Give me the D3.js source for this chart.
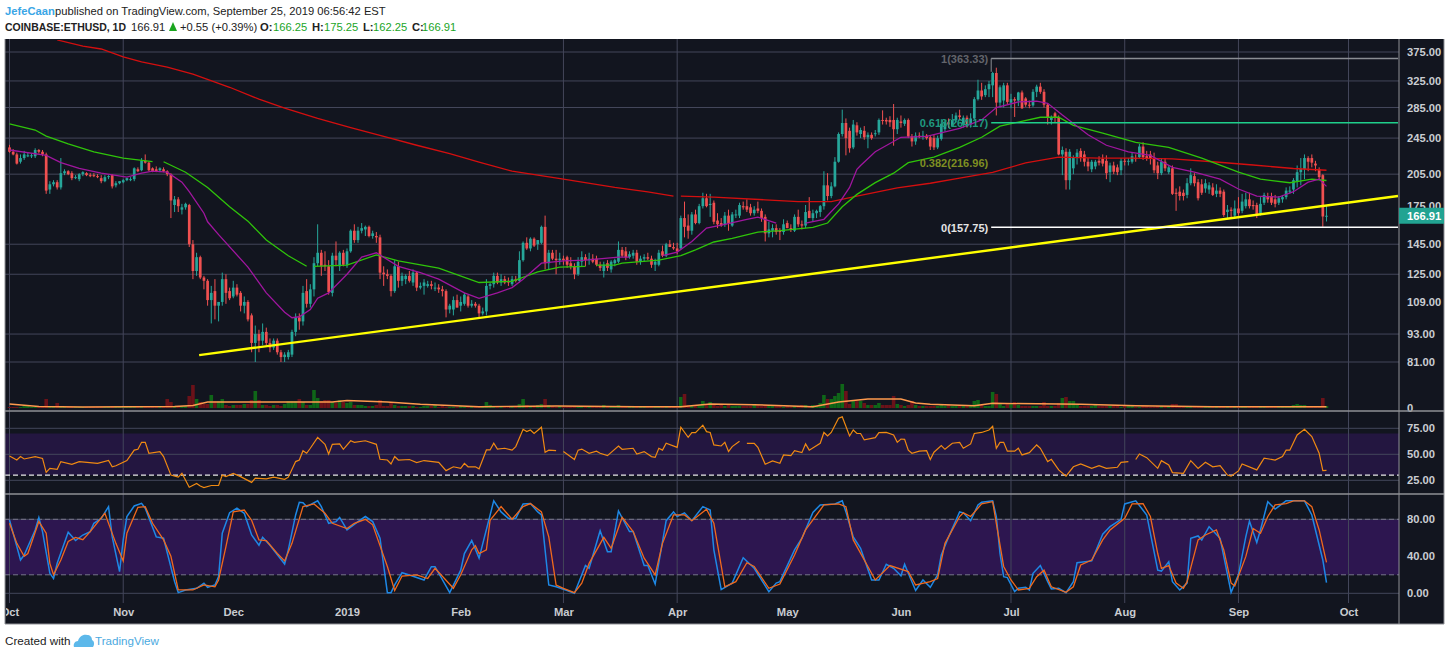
<!DOCTYPE html>
<html>
<head>
<meta charset="utf-8">
<script src="https://cdn.jsdelivr.net/npm/d3@7"></script>
<style>
  body { margin: 0; background: #fff; }
  svg { display: block; font-family: "Liberation Sans", Arial, sans-serif; }
  .axis text { fill: #c9ccd1; font-size: 11.2px; font-weight: bold; }
  .axis path, .axis line { display: none; }
</style>
</head>
<body>
<div id="chart"></div>
<script>
// Daily candles, day 0 = 1 Oct 2018, last = 25 Sep 2019
var opens = [
  234,229,226,218,222,225,224,224,231,229, 226,190,195,197,192,206,208,206,201,200,
  205,206,204,204,203,201,198,202,204,194, 196,197,199,200,200,210,209,219,217,211,
  210,209,210,208,205,176,181,172,174,176, 145,127,136,123,121,110,115,107,109,122,
  115,112,117,114,107,109,102,89,93,90, 94,89,87,90,85,83,83,84,94,101,
  99,115,108,116,132,139,131,130,114,137, 130,139,131,140,155,148,155,156,158,151,
  151,150,126,125,124,115,130,121,122,124, 120,126,117,118,118,119,117,117,116,115,
  105,105,110,107,108,112,107,108,107,103, 104,118,119,124,120,122,121,119,122,121,
  134,146,142,149,145,146,158,132,139,135, 134,135,136,132,130,125,133,136,134,135,
  135,131,127,132,128,132,133,141,140,136, 137,139,133,135,136,135,131,131,140,137,
  145,143,142,142,165,159,155,168,161,175, 182,176,178,163,161,160,167,159,168,167,
  175,175,174,169,173,171,166,153,155,157, 155,154,161,157,155,166,160,159,171,165,
  169,170,175,194,184,193,218,250,264,254, 234,261,250,254,246,249,250,252,268,268,
  268,268,256,266,263,268,247,241,248,247, 248,246,245,234,244,256,265,260,268,274,
  262,271,262,270,297,310,303,312,318,338, 292,295,318,292,297,295,307,298,289,288,
  308,316,308,289,268,277,272,226,229,199, 211,222,230,226,218,210,213,219,221,219,
  207,214,212,209,219,218,218,222,223,235, 224,226,222,214,206,218,207,211,187,188,
  187,185,196,203,197,195,191,190,192,186, 189,188,170,172,167,173,171,175,181,176,
  176,169,178,184,184,181,178,181,183,188, 190,198,207,210,222,222,216,210,204,166.25
];
var highs = [
  237,232,228,226,230,228,227,233,232,231, 228,198,199,199,222,210,209,208,204,206,
  208,207,206,206,205,204,204,204,205,198, 198,200,201,202,212,212,222,226,218,212,
  213,212,212,209,206,184,183,177,178,177, 148,139,137,124,122,118,122,109,126,125,
  117,121,119,115,112,110,103,97,95,98, 96,91,91,91,86,85,86,95,103,103,
  118,122,119,136,160,141,140,134,139,147, 140,141,142,156,160,158,161,159,159,155,
  154,152,130,128,125,134,133,126,125,127, 128,127,120,122,121,121,120,119,118,116,
  108,112,113,112,114,113,110,109,108,106, 122,120,126,126,125,124,123,124,124,140,
  147,150,150,150,148,159,167,141,141,141, 139,137,137,136,132,136,140,138,139,138,
  137,133,133,134,134,135,147,143,143,140, 141,141,137,138,139,137,135,141,144,146,
  148,146,146,167,179,168,170,172,177,187, 186,186,180,169,165,170,172,170,172,178,
  179,181,177,175,179,173,168,162,160,160, 157,164,163,160,168,172,163,176,183,172,
  172,176,208,206,197,223,252,282,270,258, 268,265,258,260,252,252,255,270,281,271,
  273,290,271,274,270,270,250,252,252,254, 250,248,249,248,269,268,270,276,278,282,
  274,274,277,300,327,322,318,325,340,347, 318,322,322,305,300,308,310,300,295,312,
  319,322,312,291,274,279,274,235,233,232, 225,232,233,230,222,220,220,224,226,225,
  217,218,215,222,222,222,228,226,238,240, 230,230,228,218,222,222,214,214,191,193,
  190,201,211,206,200,200,200,197,196,195, 192,190,176,174,180,183,186,187,187,180,
  178,183,187,187,187,185,184,185,192,193, 201,214,222,226,224,226,219,212,205,175.25
];
var lows = [
  228,225,215,216,220,223,222,222,227,224, 186,186,193,190,190,204,204,199,200,198,
  203,203,202,202,201,196,197,200,191,192, 195,196,198,198,198,207,208,216,208,207,
  207,207,207,203,165,170,170,168,172,143, 122,124,122,116,107,98,100,99,107,108,
  110,111,112,104,103,99,85,81,85,88, 88,85,86,84,81,81,82,83,92,95,
  97,106,106,112,130,124,127,113,112,130, 127,130,129,139,146,146,153,151,150,149,
  146,122,118,122,112,114,117,118,119,120, 118,115,116,113,117,116,115,114,112,101,
  103,102,106,104,107,106,106,106,101,102, 102,116,117,119,118,119,118,118,120,120,
  133,141,140,143,141,145,128,128,134,125, 131,131,129,128,122,124,130,130,131,132,
  130,127,123,127,126,130,132,136,134,135, 135,131,131,133,134,129,127,130,136,136,
  143,141,138,141,150,149,152,160,160,173, 174,166,160,157,158,158,155,158,165,165,
  172,170,167,167,169,162,147,150,150,152, 148,152,157,154,154,158,156,157,165,162,
  165,166,172,180,182,192,217,247,225,228, 232,248,245,243,233,243,247,249,262,262,
  259,236,250,258,260,245,235,237,245,243, 243,231,231,232,242,253,258,259,265,268,
  258,258,258,268,295,296,300,300,300,274, 285,285,290,284,272,287,283,286,284,286,
  300,305,285,262,262,264,225,204,190,190, 205,215,218,213,208,207,210,214,213,200,
  197,205,204,204,214,214,216,218,222,220, 219,215,206,200,204,208,205,185,171,180,
  180,182,194,193,180,185,187,186,184,183, 183,166,165,165,165,167,169,173,173,172,
  165,167,176,178,176,174,176,178,181,186, 186,192,194,200,208,212,208,200,158,162.25
];
var closes = [
  229,226,216,222,226,225,225,231,229,226, 189,195,197,192,206,208,205,201,202,205,
  207,204,203,203,202,198,202,203,193,196, 198,199,201,200,211,208,219,217,209,208,
  208,211,208,205,180,181,175,174,177,145, 127,136,123,121,110,114,107,109,122,114,
  111,117,113,107,109,100,89,93,90,94, 89,87,90,85,83,84,85,94,101,99,
  114,108,116,132,139,130,130,114.5,137,134, 139,131,140,155,148,155,157,158,151,153,
  150,126,125,124,115,130,121,124,124,121, 126,117,118,120,119,118,117,116,115,105,
  107,110,106,109,113,107,108,107,103,104, 118,119,124,120,122,120,120,122,121,134,
  146,142,149,144,148,158,132,139,135,134, 135,134,131,130,125,133,136,134,135,133,
  131,129,131,129,133,134,141,137,136,138, 139,133,135,136,135,131,133,139,137,145,
  143,142,140,165,158,155,168,161,175,182, 175,177,162,160,159,167,161,168,168,176,
  174,172,169,172,171,165,153,156,157,154, 154,160,157,156,166,160,159,170,165,169,
  171,175,194,184,193,218,250,264,245,233, 262,252,255,246,249,245,251,268,267,266,
  265,256,268,264,268,247,241,248,247,248, 245,235,234,245,263,265,262,268,274,272,
  271,262,270,297,310,301,312,320,338,292, 315,318,293,297,295,307,284,289,288,308,
  316,308,289,271,272,272,226,231,199,229, 222,228,222,218,213,218,218,217,216,206,
  214,207.5,207,219,218,219,224,221,235,223, 222,222,209,206,218,211,212,186,186,184,
  184,196,204,196,182,187,196,194,185,189, 186,167.5,172,171,173,169,179,181,175,175,
  167.5,177,185,181,178,177,182,183,189,189, 199,207,211,222,218,217,214,202,166.3,166.91
];

// Volume, same days (arbitrary units)
var volumes = [
  1,1,1,1,2,2,1,1,1,2, 9,2,1,5,2,1,1,1,1,1, 1,1,1,1,1,1,1,1,2,2, 1,1,1,1,2,2,1,1,1,1,
  1,1,2,9,6,2,2,2,2,12, 23,9,6,4,4,13,7,7,9,3, 2,3,3,3,4,4,8,17,8,3, 3,2,3,3,2,4,7,7,7,9,
  6,3,3,18,10,7,8,8,6,5, 8,6,5,6,3,3,3,2,2,2, 3,8,2,2,6,3,2,2,2,2, 2,1,1,2,2,2,3,1,2,1,
  1,1,1,2,1,1,1,1,1,2, 6,3,2,1,1,2,2,2,1,4, 9,3,2,1,3,4,9,3,2,1, 2,1,1,1,2,1,1,2,2,1,
  1,2,3,2,1,2,3,2,2,1, 1,2,2,1,1,1,1,1,1,1, 1,1,2,11,14,3,2,2,3,7, 3,6,3,2,3,2,3,2,2,2,
  2,2,2,3,3,2,3,3,3,2, 2,1,2,1,2,2,3,3,2,3, 2,5,13,9,9,12,15,24,17,4, 7,7,7,5,3,3,3,5,3,3,
  3,12,4,3,2,3,7,3,2,2, 2,2,2,2,3,2,3,2,2,2, 2,2,3,7,8,3,2,2,16,14, 4,2,4,4,6,3,2,2,2,2,
  2,2,6,2,2,2,5,10,11,7, 7,3,2,2,2,2,3,2,2,2, 2,3,2,1,2,2,2,1,1,2, 2,1,1,2,2,2,2,4,4,2,
  2,1,2,1,1,2,2,1,1,2, 2,2,1,2,1,1,2,2,2,1, 1,1,1,1,1,1,1,2,2,2, 3,4,3,3,1,1,2,2,10,2
];
var volMaDays = [0,8,20,45,50,54,88,92,103,112,128,149,171,183,191,203,219,226,234,243,247,251,263,268,292,307,328,359];
var volMaValues = [4,1.5,1,1.5,2.5,6,6,7.5,6,3.7,1.3,2,1.3,1.3,4,3.3,1.3,6,9,9,5,3.7,2.3,4.7,3.7,2.3,1.3,1.3];

// Moving averages
var ma20Days = [0,10,14,19,25,32,36,39,43,47,49,53,54,57,65,70,75,77,79,82,84,87,92,96,100,106,112,117,124,128,133,137,140,145,151,157,166,169,178,182,186,190,195,201,204,209,217,222,226,229,231,232,236,243,250,259,265,269,275,280,283,287,294,299,305,311,317,323,330,335,340,346,350,354,357,359];
var ma20Values = [231,225,217,211,206,202,206,208,207,197,188,169,162,152,129.5,114,103.6,100.8,101.3,105,111,114,125,136,139,130,126,122,114,111,114,117,122,132,133.5,134,136,136,137,139.5,147,157,160,164,165.7,161,161,164,177,192,210,214,229,246,247,257,268,285,293,294,291,274.5,249,236.5,229,225,212,207,200,190.5,184,183,188,197,200,193];
var ma50Days = [0,7,10,16,23,31,39,42,48,54,60,65,70,76,81,83,92,100,106,117,128,137,144,150,157,160,165,167,177,183,187,192,197,204,210,219,223,227,231,236,241,245,252,259,265,270,281,286,290,298,307,316,325,335,341,349,355,359];
var ma50Values = [263,255,247.5,238,229,222,218,218,207,192,174.5,162.5,148,137,130,130,130.7,137.6,133.5,128.8,120,120.7,126.4,129.5,130,130.7,130.7,132,134,137,141,146.6,149.3,154,155,157.5,161,174.5,185.5,196.6,206,217,223,234,246,260,271.6,271.6,261,251,240,234,222,207,200,196.5,200,198.7];
var ma200Days = [13,20,25,31,36,43,50,60,68,75,84,93,102,111,120,128,137,151,165,174,181,183,192,206,215,224,231,242,251,259,268,277,286,297,306,317,328,339,350,359];
var ma200Values = [398,386,380.6,366,357,348,336,315,297,284,270,258,247,236.5,227,217.5,208,200,192,187.8,184,184,183,180.6,179,179,184,191.5,196,201,206.9,216.7,223,222,222,221,218,214.5,210.8,209];
// days after which the drawn line breaks off until the next reading
var ma20Breaks = [169,209];
var ma50Breaks = [39,81,157];
var ma200Breaks = [181];

// Trend line and fib levels
var trendDays = [51.7,378.5];
var trendValues = [83.8,184];
var fibStartDay = 267.6;
var fibEndDay = 378.5;
var fibLevels = [1,0.618,0.382,0];
var fibValues = [363.33,264.17,216.96,157.75];

// RSI
var rsiDays = [0,2,3,4,7,9,10,11,13,14,17,19,24,27,28,29,32,34,35,36,37,38,41,42,44,46,47,49,51,52,53,55,57,58,59,61,63,66,67,70,72,75,76,78,79,80,81,82,84,86,87,88,90,91,93,94,97,100,101,103,104,105,106,109,111,113,117,119,121,123,124,125,127,128,
  130,131,132,133,135,137,138,140,141,142,143,145,146,147,149,151,154,155,156,158,160,161,163,166,167,170,171,173,175,176,177,178,179,182,183,185,186,187,189,190,191,192,194,195,196,197,199,201,203,204,206,208,210,211,213,214,216,217,218,221,222,223,224,226,227,229,230,231,232,233,236,237,239,241,242,243,244,245,246,248,250,251,252,254,255,257,259,
  260,262,263,265,267,268,269,270,271,272,274,275,276,278,280,281,283,284,286,288,290,292,295,297,299,302,303,305,307,308,310,313,314,316,317,320,322,324,326,328,330,332,333,335,336,340,342,345,347,348,349,351,353,355,357,358,359];
var rsiValues = [48.4,44.5,47.8,45.5,47.8,46,32.7,36.5,35.6,43,40.4,43,41.3,44.2,38,39,44,54,54.8,61.5,61.5,51,52.6,47.8,30,28,31.7,18.3,22,19.5,18,20,20,30,28.5,31.7,28.5,23,27,26.3,28,26,28,43,44.5,53.5,51,55.8,66.3,59.6,50.3,59.6,60,54.8,63,61.5,63,59.6,45.2,44.5,40.7,47.8,44.5,45,42,44,42.3,34.3,38,36.5,41.3,38,38,36,
  54.2,54.2,60.6,55,55.8,54,57.4,74,71.8,73.4,70,76,52,54,53.5,52.6,45,54,55,51,53,51,48.7,58,54.8,55.8,50.3,52.6,47.8,47,55.8,54,60.6,56.7,76,66.3,70.8,70.8,78,71.8,71,59,58,61.5,52.6,57.4,62.6,60.6,60.6,56.7,40.4,43.6,41.3,49.4,48.7,53.5,51.6,60,54,60.6,71,67.6,71,84.6,86,67.6,73.4,70,70,63.8,66,70.8,71,68.6,61.5,64.7,64.4,54,51,53,53.5,45,52,58.3,54.8,60.6,61.5,
  55.8,60,70,71,73.4,77,55.8,61.5,61.5,53,53,55.8,49.4,51.6,59,55.8,43,45.2,35,29,38,40.7,36.5,39,36.5,37.5,42.3,43,45,50.3,46.8,36.5,43.9,39.7,32.4,31.7,43.9,36.5,42.3,38,39,30,29,34,40.7,35,46.2,44.5,47.8,54,54,68.6,74,67,51,34.3,34.6];
var rsiBreaks = [149,199,305];

// Stochastic RSI
var stochKDays = [0,2,3,4,7,8,9,11,12,13,16,18,20,22,23,25,27,28,30,31,32,34,36,37,40,42,45,46,48,51,53,54,56,57,58,60,62,64,66,68,69,71,75,76,78,79,80,81,84,85,87,89,90,92,95,97,99,101,103,104,105,107,109,113,115,116,120,123,124,126,128,
  132,134,136,138,140,142,144,145,147,149,152,154,156,157,158,161,163,164,166,169,170,173,174,176,179,181,182,184,186,189,191,192,194,197,200,203,207,209,210,214,216,219,221,225,227,228,230,232,235,237,239,241,243,244,245,247,249,251,253,254,256,258,259,
  260,262,264,265,268,269,270,271,272,274,275,277,278,279,281,283,284,286,288,290,291,295,298,300,303,304,307,310,313,314,316,317,319,321,322,324,325,327,330,333,335,337,338,340,341,343,345,348,353,355,358,359];
var stochKValues = [79.3,50.5,36,41.4,68.5,82,66.7,21.6,16,32.4,66,57,63,66.7,75.7,81,93.7,61,23.4,57.7,83,94.4,97.3,92,61,59.5,12.6,0.7,3.6,5.4,10.8,6.5,9,18,65,87.2,92,86.5,63,52,60.5,52,31.7,47,84.7,98.4,98,93.7,100,93.7,75.7,77.5,82,68.5,77.5,83,77.5,59.5,0.7,0.7,9,22.3,19.8,14.4,28.8,28.8,0.7,25,43,57,38,
  100,88,81,81,96.6,97,88,84.7,9,7,3,0,20,30,27,67.7,45,45,89,66.7,66.7,30,30,10,78.5,88,83,87,78.5,93.7,90,47,4,11,38.5,27,1.8,11,12.6,47,59.5,87.5,95.5,96.6,100,88,61,48.6,14.4,14.4,31.4,27,19,31.4,21.6,3,14.4,6.5,20,41.4,61,79,88,
  87,78.5,95.5,98.4,100,83,43,18,17,1.8,5.4,6.5,3.6,21.6,30,12.6,4.7,5.4,0.7,12.6,33,35,64,72,80,96.6,100,84.7,25,24,34,12.6,3.6,11,59.5,62,57.7,72,59.5,1,20,61,78,55,68.5,99,91,100,100,84.7,36,11.5];
var stochDDays = [0,2,4,5,8,10,11,12,14,16,18,20,22,26,29,31,32,35,37,39,42,44,46,50,53,56,57,59,61,64,66,68,70,73,75,77,80,83,86,88,92,94,97,99,103,105,107,111,114,116,121,123,126,127,128,
  130,131,134,136,137,140,142,145,147,149,151,154,156,158,162,164,167,170,173,176,178,181,184,186,190,192,195,198,201,203,207,210,214,217,222,226,228,230,236,240,245,247,251,253,255,259,
  260,262,265,268,269,271,273,275,278,280,282,284,288,290,292,295,298,300,304,306,309,311,313,314,316,318,320,321,324,326,329,331,333,334,337,339,341,343,345,348,350,353,355,357,359];
var stochDValues = [75.7,54,40,43,77.5,65,32.4,20,36,56,60.5,58,66.7,86.5,54,35,65,93,93.7,75.7,57.7,40,3.6,3.6,9,7,14.4,50.5,88,90,79,57.7,57,43,35,54,93.7,96.6,86.5,75.7,70,75.7,80,74,29,3,18.7,20,16,27,5.4,20,47,51.5,43,
  47,79,93.7,84.7,80,93.7,97,88,61,9,5.4,0.7,11,32.4,60.5,48.6,82,66.7,38,20,54,84.7,84.7,78.5,91,75.7,7,12.6,33,29,5.4,10,41.4,68.5,95.5,96.6,93.7,57.7,14.4,30,23.4,9,12.6,16,54,83,
  87,83,96.6,99,75.7,29,14.4,3.6,5.4,18,25,7,1,7,30.6,36,57.7,68.5,81,96.6,97,83,43,27,30,11,5.4,12.6,57.7,63,68.5,47,11,8,39.6,70,65,83,95.5,97,100,100,93.7,68.5,33.5];

// Axes
var monthDays = [0,31,61,92,123,151,182,212,243,273,304,335,365];
var monthLabels = ["Oct","Nov","Dec","2019","Feb","Mar","Apr","May","Jun","Jul","Aug","Sep","Oct"];
var gridMonths = [0,31,151,182,273,304,335,365];
var priceTicks = [375,325,285,245,205,175,145,125,109,93,81];
var priceGrid = [375,325,285,245,205,145,125,93,81];
var rsiTicks = [75,50,25];
var stochTicks = [80,40,0];

var svgWidth = 1450;
var svgHeight = 657;
var plotLeft = 5, plotRight = 1444, axisX = 1399;
var plotTop = 39, mainBottom = 411, rsiBottom = 494, stochBottom = 603, plotBottom = 624;

var bg = "#12151f", grid = "#43465a", sep = "#8f9196";
var upColor = "#26a69a", downColor = "#f05050";

var x = d3.scaleLinear().domain([0, 365]).range([9.5, 1348.5]);
var y = d3.scaleLog().domain([81, 375]).range([362, 52]);
var volY = d3.scaleLinear().domain([0, 100]).range([408, 308]);
var rsiY = d3.scaleLinear().domain([25, 75]).range([480.3, 428.3]);
var stochY = d3.scaleLinear().domain([0, 80]).range([593.3, 519.3]);

// Pair up days and values, with an empty point after each break day
function withBreaks(days, values, breaks) {
  var pts = [];
  days.forEach(function(d, i) {
    pts.push([d, values[i]]);
    if (breaks.indexOf(d) >= 0) pts.push([d, null]);
  });
  return pts;
}

var svg = d3.select("#chart").append("svg")
  .attr("width", svgWidth)
  .attr("height", svgHeight);

var defs = svg.append("defs");
defs.append("clipPath").attr("id", "clip-main").append("rect")
  .attr("x", plotLeft).attr("y", plotTop + 1).attr("width", axisX - plotLeft).attr("height", mainBottom - plotTop - 1);
defs.append("clipPath").attr("id", "clip-all").append("rect")
  .attr("x", plotLeft + 1).attr("y", plotTop).attr("width", plotRight - plotLeft).attr("height", plotBottom - plotTop);

// Background
svg.append("rect")
  .attr("x", plotLeft).attr("y", plotTop)
  .attr("width", plotRight - plotLeft).attr("height", plotBottom - plotTop)
  .attr("fill", bg);

// Indicator bands
svg.append("rect")
  .attr("x", plotLeft).attr("width", axisX - plotLeft)
  .attr("y", rsiY(70)).attr("height", rsiY(30) - rsiY(70))
  .attr("fill", "#231640");
svg.append("rect")
  .attr("x", plotLeft).attr("width", axisX - plotLeft)
  .attr("y", stochY(80)).attr("height", stochY(20) - stochY(80))
  .attr("fill", "#2d1650");

// Grid lines
svg.append("g").selectAll("line").data(gridMonths).enter().append("line")
  .attr("x1", d => x(d)).attr("x2", d => x(d))
  .attr("y1", plotTop).attr("y2", stochBottom)
  .attr("stroke", grid);
svg.append("g").selectAll("line").data(priceGrid).enter().append("line")
  .attr("x1", plotLeft).attr("x2", axisX)
  .attr("y1", d => y(d)).attr("y2", d => y(d))
  .attr("stroke", grid);
svg.append("g").selectAll("line").data(rsiTicks).enter().append("line")
  .attr("x1", plotLeft).attr("x2", axisX)
  .attr("y1", d => rsiY(d)).attr("y2", d => rsiY(d))
  .attr("stroke", grid);
svg.append("g").selectAll("line").data([80, 0]).enter().append("line")
  .attr("x1", plotLeft).attr("x2", axisX)
  .attr("y1", d => stochY(d)).attr("y2", d => stochY(d))
  .attr("stroke", grid);

// Volume
var main = svg.append("g").attr("clip-path", "url(#clip-main)");
var days = d3.range(opens.length);

main.append("g").selectAll("rect").data(days).enter().append("rect")
  .attr("x", d => x(d) - 1.8)
  .attr("width", 3.6)
  .attr("y", d => volY(volumes[d]))
  .attr("height", d => volY(0) - volY(volumes[d]))
  .attr("fill", d => closes[d] >= opens[d] ? "#0f6618" : "#6b1219");

var volLine = d3.line().x(d => x(d[0])).y(d => volY(d[1]));
main.append("path")
  .datum(d3.zip(volMaDays, volMaValues))
  .attr("d", volLine)
  .attr("fill", "none")
  .attr("stroke", "#ff9a4d")
  .attr("stroke-width", 1.4);

// Candles
var candles = main.append("g").selectAll("g").data(days).enter().append("g");
candles.append("line")
  .attr("x1", d => x(d)).attr("x2", d => x(d))
  .attr("y1", d => y(highs[d])).attr("y2", d => y(lows[d]))
  .attr("stroke", d => closes[d] >= opens[d] ? upColor : downColor);
candles.append("rect")
  .attr("x", d => x(d) - 1.35)
  .attr("width", 2.7)
  .attr("y", d => y(Math.max(opens[d], closes[d])))
  .attr("height", d => Math.max(1, Math.abs(y(opens[d]) - y(closes[d]))))
  .attr("fill", d => closes[d] >= opens[d] ? upColor : downColor);

// Moving averages
var priceLine = d3.line().defined(d => d[1] !== null).x(d => x(d[0])).y(d => y(d[1]));
main.append("path").datum(withBreaks(ma200Days, ma200Values, ma200Breaks)).attr("d", priceLine)
  .attr("fill", "none").attr("stroke", "#d40f0f").attr("stroke-width", 1.3);
main.append("path").datum(withBreaks(ma50Days, ma50Values, ma50Breaks)).attr("d", priceLine)
  .attr("fill", "none").attr("stroke", "#2fc40a").attr("stroke-width", 1.3);
main.append("path").datum(withBreaks(ma20Days, ma20Values, ma20Breaks)).attr("d", priceLine)
  .attr("fill", "none").attr("stroke", "#a0169f").attr("stroke-width", 1.3);

// Trend line
main.append("path").datum(d3.zip(trendDays, trendValues)).attr("d", priceLine)
  .attr("fill", "none").attr("stroke", "#ffff00").attr("stroke-width", 2.4);

// Fib levels
var fibColors = ["#8a8d93", "#1fcf8b", null, "#ffffff"];
var fibLabelColors = ["#62646b", "#1f9a80", "#7f8f22", "#e4e4e4"];
main.append("line")
  .attr("x1", x(fibStartDay)).attr("x2", x(fibStartDay))
  .attr("y1", y(fibValues[0])).attr("y2", y(highs[268]))
  .attr("stroke", "#8a8d93");
fibValues.forEach(function(v, i) {
  if (fibColors[i]) {
    main.append("line")
      .attr("x1", x(fibStartDay)).attr("x2", x(fibEndDay))
      .attr("y1", y(v)).attr("y2", y(v))
      .attr("stroke", fibColors[i]).attr("stroke-width", 1.5);
  }
  main.append("text")
    .attr("x", x(fibStartDay) - 3)
    .attr("y", y(v) + 4.5)
    .attr("text-anchor", "end")
    .attr("font-size", 11)
    .attr("font-weight", "bold")
    .attr("fill", fibLabelColors[i])
    .text(fibLevels[i] + "(" + v.toFixed(2) + ")");
});

// RSI
svg.append("line")
  .attr("x1", plotLeft).attr("x2", axisX)
  .attr("y1", rsiY(30)).attr("y2", rsiY(30))
  .attr("stroke", "#e8e8e8").attr("stroke-width", 1.3).attr("stroke-dasharray", "5 3");
svg.append("path")
  .datum(withBreaks(rsiDays, rsiValues, rsiBreaks))
  .attr("d", d3.line().defined(d => d[1] !== null).x(d => x(d[0])).y(d => rsiY(d[1])))
  .attr("fill", "none").attr("stroke", "#f08a12").attr("stroke-width", 1.2);

// Stochastic
svg.append("g").selectAll("line").data([80, 20]).enter().append("line")
  .attr("x1", plotLeft).attr("x2", axisX)
  .attr("y1", d => stochY(d)).attr("y2", d => stochY(d))
  .attr("stroke", "#77758a").attr("stroke-dasharray", "5 3");
var stochLine = d3.line().x(d => x(d[0])).y(d => stochY(d[1]));
svg.append("path").datum(d3.zip(stochKDays, stochKValues)).attr("d", stochLine)
  .attr("fill", "none").attr("stroke", "#1e88e5").attr("stroke-width", 1.5);
svg.append("path").datum(d3.zip(stochDDays, stochDValues)).attr("d", stochLine)
  .attr("fill", "none").attr("stroke", "#f0691c").attr("stroke-width", 1.3);

// Axes
function priceAxis(scale, ticks, fmt) {
  var g = svg.append("g")
    .attr("class", "axis")
    .attr("transform", `translate(${axisX}, 0)`)
    .call(d3.axisRight(scale).tickValues(ticks).tickSize(0).tickPadding(8).tickFormat(fmt));
  return g;
}
priceAxis(y, priceTicks, d3.format(".2f"));
priceAxis(volY, [0], d3.format("d"));
priceAxis(rsiY, rsiTicks, d3.format(".2f"));
priceAxis(stochY, stochTicks, d3.format(".2f"));

svg.append("g")
  .attr("class", "axis time")
  .attr("clip-path", "url(#clip-all)")
  .append("g")
  .attr("transform", `translate(0, ${stochBottom})`)
  .call(d3.axisBottom(x).tickValues(monthDays).tickSize(0).tickPadding(5)
    .tickFormat((d, i) => monthLabels[i]));

// Separators and frame
[mainBottom, rsiBottom].forEach(function(yy) {
  svg.append("line")
    .attr("x1", plotLeft).attr("x2", plotRight)
    .attr("y1", yy).attr("y2", yy)
    .attr("stroke", sep).attr("stroke-width", 1.5);
});
svg.append("line")
  .attr("x1", axisX).attr("x2", axisX).attr("y1", plotTop).attr("y2", plotBottom)
  .attr("stroke", sep);
svg.append("path")
  .attr("d", `M${plotLeft},${plotTop}V${plotBottom}H${plotRight}V${plotTop}`)
  .attr("fill", "none").attr("stroke", sep).attr("stroke-width", 1);

// Last price tag
var lastPrice = closes[closes.length - 1];
svg.append("rect")
  .attr("x", axisX).attr("width", plotRight - axisX)
  .attr("y", y(lastPrice) - 8).attr("height", 16)
  .attr("fill", "#22a392");
svg.append("text")
  .attr("x", axisX + 8).attr("y", y(lastPrice) + 4)
  .attr("font-size", 11.2).attr("font-weight", "bold").attr("fill", "#fff")
  .text(lastPrice.toFixed(2));

// Header
var header = svg.append("g").attr("font-size", 11.2).attr("fill", "#222");
header.append("text").attr("x", 5).attr("y", 15).attr("fill", "#3aa6e6").attr("font-weight", "bold").text("JefeCaan");
header.append("text").attr("x", 55).attr("y", 15).text("published on TradingView.com, September 25, 2019 06:56:42 EST");

var row2 = [
  {x: 5, t: "COINBASE:ETHUSD, 1D", b: true, c: "#222", w: 121},
  {x: 131, t: "166.91", b: false, c: "#222"},
  {x: 180, t: "+0.55 (+0.39%)", b: false, c: "#222"},
  {x: 260, t: "O:", b: true, c: "#222"},
  {x: 273, t: "166.25", b: false, c: "#1aa51f"},
  {x: 312, t: "H:", b: true, c: "#222"},
  {x: 324, t: "175.25", b: false, c: "#1aa51f"},
  {x: 363, t: "L:", b: true, c: "#222"},
  {x: 373, t: "162.25", b: false, c: "#1aa51f"},
  {x: 412, t: "C:", b: true, c: "#222"},
  {x: 422, t: "166.91", b: false, c: "#1aa51f"}
];
header.selectAll("text.r2").data(row2).enter().append("text")
  .attr("class", "r2")
  .attr("x", d => d.x).attr("y", 31)
  .attr("font-weight", d => d.b ? "bold" : "normal")
  .attr("fill", d => d.c)
  .attr("textLength", d => d.w || null)
  .attr("lengthAdjust", d => d.w ? "spacingAndGlyphs" : null)
  .text(d => d.t);
header.append("path").attr("d", "M169,31L173,22L177,31Z").attr("fill", "#1aa51f");

// Footer
svg.append("text").attr("x", 5).attr("y", 645).attr("font-size", 11.7).attr("fill", "#222").text("Created with");
svg.append("path")
  .attr("d", "M74,647c-1,-3 1,-6 4,-6c1,-4 5,-7 9,-6c3,0 5,2 5,5c2,1 3,4 1,7z")
  .attr("fill", "#5cb8ea");
svg.append("text").attr("x", 95).attr("y", 645).attr("font-size", 11.6).attr("fill", "#4aa9e0").text("TradingView");
</script>
</body>
</html>
